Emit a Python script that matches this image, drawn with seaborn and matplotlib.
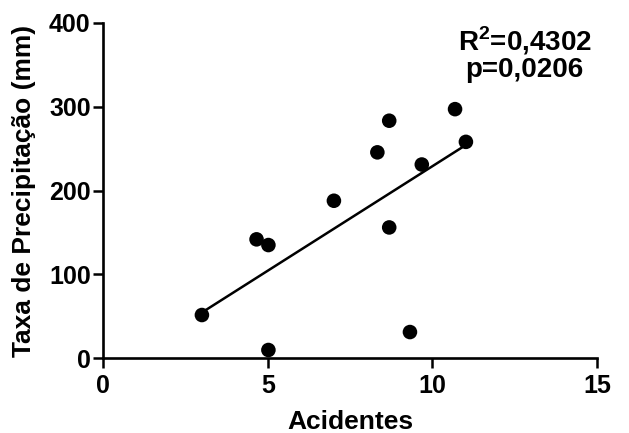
import pandas as pd
import matplotlib
matplotlib.use('Agg')
import matplotlib.pyplot as plt
import seaborn as sns

# Values
acidentes = [3.0, 4.66, 5.02, 5.02, 7.01, 8.33, 8.69, 8.69, 9.32, 9.68, 10.69, 11.02]
precipitacao = [51.6, 141.8, 135.0, 9.9, 187.8, 245.5, 283.2, 156.0, 31.3, 231.0, 297.0, 258.0]
x_ticks = [0, 5, 10, 15]
y_ticks = [0, 100, 200, 300, 400]
r2_text = r'R$^{\mathbf{2}}$=0,4302'
p_text = 'p=0,0206'

df = pd.DataFrame({'Acidentes': acidentes, 'Precipitacao': precipitacao})

sns.set_style('ticks')
plt.rcParams['font.family'] = ['Liberation Sans', 'DejaVu Sans']
plt.rcParams['font.weight'] = 'bold'
plt.rcParams['mathtext.fontset'] = 'custom'
plt.rcParams['mathtext.rm'] = 'Liberation Sans:bold'
plt.rcParams['mathtext.bf'] = 'Liberation Sans:bold'
plt.rcParams['text.color'] = 'black'
plt.rcParams['axes.labelcolor'] = 'black'
plt.rcParams['xtick.color'] = 'black'
plt.rcParams['ytick.color'] = 'black'
plt.rcParams['axes.edgecolor'] = 'black'

fig = plt.figure(figsize=(6.29, 4.33), dpi=100)
ax = fig.add_axes([0.164, 0.1725, 0.785, 0.775])

sns.regplot(x='Acidentes', y='Precipitacao', data=df, ci=None, ax=ax,
            scatter_kws={'s': 110, 'color': 'black', 'edgecolor': 'none', 'alpha': 1},
            line_kws={'color': 'black', 'lw': 1.8})

ax.set_xlim(0, 15)
ax.set_ylim(0, 400)
ax.set_xticks(x_ticks)
ax.set_yticks(y_ticks)
ax.tick_params(axis='both', labelsize=18, width=1.8, length=7, direction='out', pad=2)
ax.tick_params(axis='x', pad=4)
for lab in ax.get_xticklabels() + ax.get_yticklabels():
    lab.set_fontweight('bold')
for side in ['left', 'bottom']:
    ax.spines[side].set_linewidth(1.9)
sns.despine(ax=ax)
for c in ax.collections:
    c.set_clip_on(False)

ax.set_xlabel('Acidentes', fontsize=19, fontweight='bold', labelpad=9)
ax.set_ylabel('Taxa de Precipitação (mm)', fontsize=19, fontweight='bold', labelpad=9)

ax.text(12.81, 378, r2_text, fontsize=20, fontweight='bold', ha='center', va='center')
ax.text(12.81, 344, p_text, fontsize=20, fontweight='bold', ha='center', va='center')

fig.savefig('out.png', dpi=100)
